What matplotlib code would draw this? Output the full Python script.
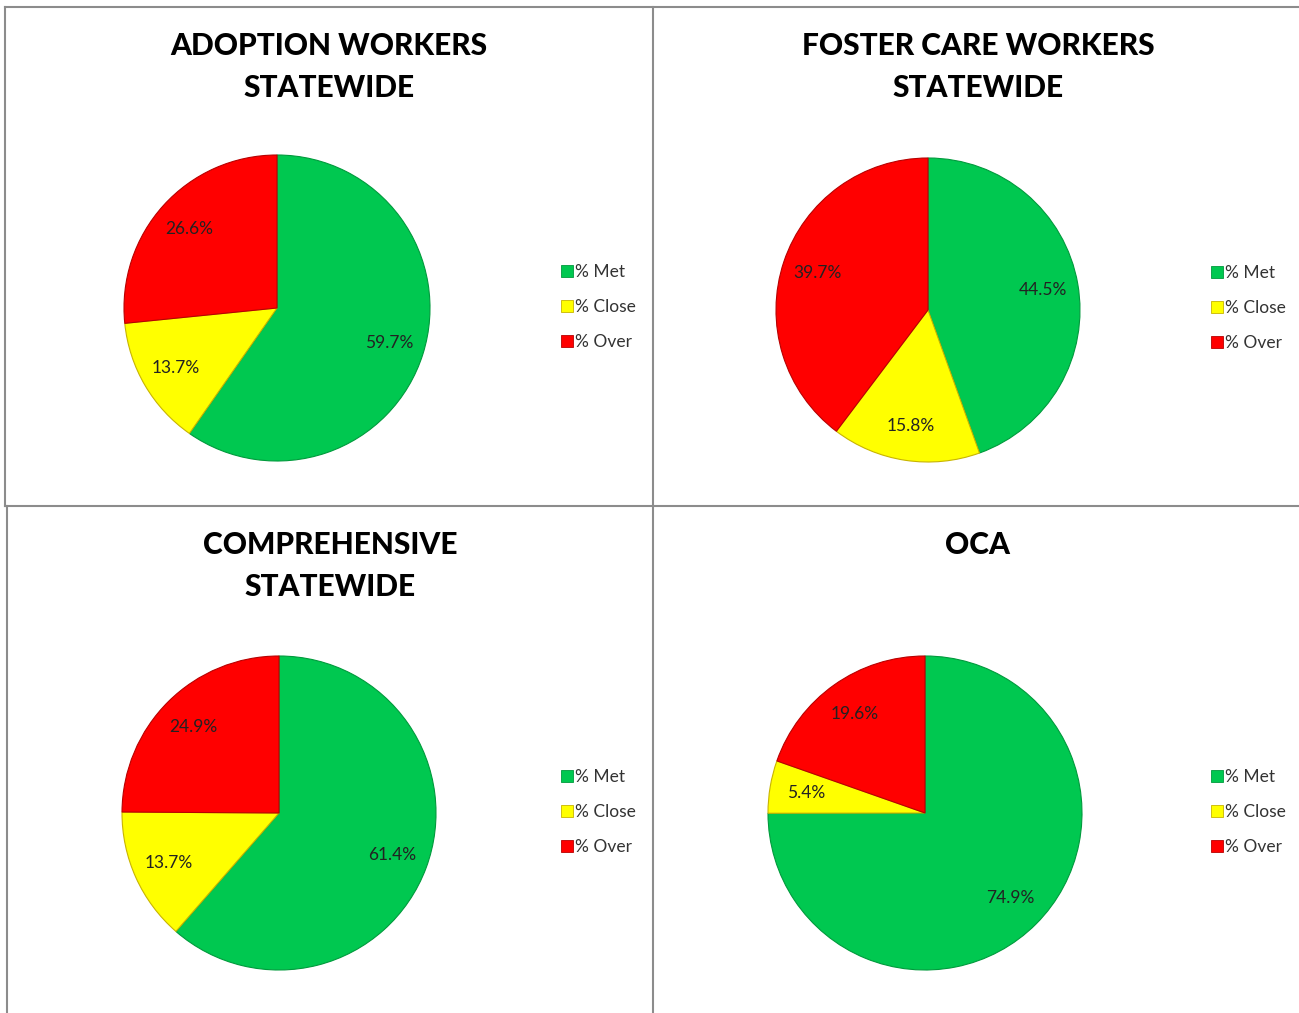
import matplotlib

matplotlib.use("Agg")

import matplotlib.pyplot as plt
import numpy as np
from matplotlib.lines import Line2D

# Values (% Met, % Close, % Over)
categories = ["% Met", "% Close", "% Over"]
titles = ["ADOPTION WORKERS\nSTATEWIDE", "FOSTER CARE WORKERS\nSTATEWIDE",
          "COMPREHENSIVE\nSTATEWIDE", "OCA"]
adoption = [59.7, 13.7, 26.6]
foster_care = [44.5, 15.8, 39.7]
comprehensive = [61.4, 13.7, 24.9]
oca = [74.9, 5.4, 19.6]
all_values = [adoption, foster_care, comprehensive, oca]

colors = ["#00c850", "#ffff00", "#ff0000"]
edges = ["#009a3c", "#c8b400", "#b80000"]

W, H = 1299, 1013
fig = plt.figure(figsize=(W / 100, H / 100), dpi=100)
plt.rcParams["font.family"] = ["Lato", "DejaVu Sans"]

# pixel layout of each panel: pie centre, radius, title centre, legend anchor
panels = [
    dict(cx=277, cy=308, r=153, tx=329, ty=67, lx=552, ly=307),
    dict(cx=928, cy=310, r=152, tx=978, ty=67, lx=1202, ly=308),
    dict(cx=279, cy=813, r=157, tx=330, ty=566, lx=552, ly=812),
    dict(cx=925, cy=813, r=157, tx=977, ty=545, lx=1202, ly=812),
]


def fx(x):
    return x / W


def fy(y):
    return 1 - y / H


for vals, title, p in zip(all_values, titles, panels):
    r = p["r"]
    ax = fig.add_axes([fx(p["cx"] - r), fy(p["cy"] + r), 2 * r / W, 2 * r / H])
    wedges, _ = ax.pie(vals, colors=colors, startangle=90, counterclock=False,
                       wedgeprops=dict(linewidth=0.8))
    for w, ec in zip(wedges, edges):
        w.set_edgecolor(ec)
    ax.set_xlim(-1, 1)
    ax.set_ylim(-1, 1)
    ax.set_aspect("equal")
    ax.axis("off")

    # data labels at the middle of each wedge
    for w, v in zip(wedges, vals):
        ang = np.deg2rad((w.theta1 + w.theta2) / 2)
        ax.text(0.77 * np.cos(ang), 0.77 * np.sin(ang), f"{v:.1f}%",
                ha="center", va="center", fontsize=12.5, color="#222222")

    fig.text(fx(p["tx"]), fy(p["ty"]), title, ha="center", va="center",
             fontsize=21.5, fontweight="black", linespacing=1.6)

    handles = [Line2D([], [], marker="s", linestyle="none", markersize=8,
                      markerfacecolor=c, markeredgecolor=e, markeredgewidth=0.6)
               for c, e in zip(colors, edges)]
    fig.legend(handles, categories, loc="center left",
               bbox_to_anchor=(fx(p["lx"]), fy(p["ly"])), frameon=False,
               fontsize=12.5, labelspacing=1.1, handlelength=0.7,
               handletextpad=0.1, borderpad=0, labelcolor="#333333")

# panel borders
grid_kw = dict(color="#8c8c8c", linewidth=1.5)
fig.add_artist(Line2D([fx(5), fx(W)], [fy(7), fy(7)], **grid_kw))
fig.add_artist(Line2D([fx(5), fx(5)], [fy(7), fy(506)], **grid_kw))
fig.add_artist(Line2D([fx(7), fx(7)], [fy(506), fy(H)], **grid_kw))
fig.add_artist(Line2D([fx(5), fx(W)], [fy(506), fy(506)], **grid_kw))
fig.add_artist(Line2D([fx(652.5), fx(652.5)], [fy(7), fy(H)], **grid_kw))

plt.savefig("out.png", dpi=100)
